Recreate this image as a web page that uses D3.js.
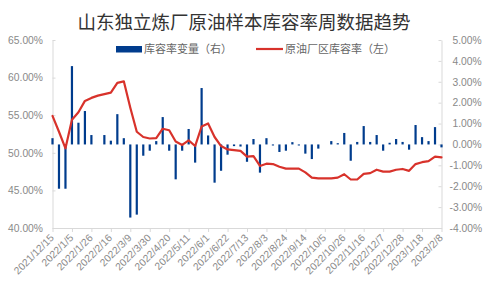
<!DOCTYPE html>
<html>
<head>
<meta charset="utf-8">
<script src="https://cdn.jsdelivr.net/npm/d3@7"></script>
<style>
  body { margin: 0; background: #fff; }
</style>
</head>
<body>
<div id="chart"></div>
<script>
var dates = ["2021/12/15","2021/12/22","2021/12/29","2022/1/5","2022/1/12","2022/1/19","2022/1/26","2022/2/2",
  "2022/2/9","2022/2/16","2022/2/23","2022/3/2","2022/3/9","2022/3/16","2022/3/23","2022/3/30","2022/4/6",
  "2022/4/13","2022/4/20","2022/4/27","2022/5/4","2022/5/11","2022/5/18","2022/5/25","2022/6/1","2022/6/8",
  "2022/6/15","2022/6/22","2022/6/29","2022/7/6","2022/7/13","2022/7/20","2022/7/27","2022/8/3","2022/8/10",
  "2022/8/17","2022/8/24","2022/8/31","2022/9/7","2022/9/14","2022/9/21","2022/9/28","2022/10/5","2022/10/12",
  "2022/10/19","2022/10/26","2022/11/2","2022/11/9","2022/11/16","2022/11/23","2022/11/30","2022/12/7",
  "2022/12/14","2022/12/21","2022/12/28","2023/1/4","2023/1/11","2023/1/18","2023/1/25","2023/2/1","2023/2/8"];

// 库容率变量（右轴, %）
var changeVals = [0.3,-2.12,-2.12,3.75,1.04,1.6,0.45,0,0.45,0.18,1.45,0.3,-3.5,-3.36,-0.54,-0.3,0.16,1.31,-0.3,
  -1.67,-0.3,0.74,-0.87,2.7,0.43,-1.83,-1.26,-0.49,-0.08,-0.1,-0.83,0.26,-1.35,0.3,-0.05,-0.36,-0.3,0.11,-0.05,
  -0.44,-0.7,-0.2,0,0.16,0.06,0.55,-0.78,0.12,0.88,0.12,0.45,-0.3,0.08,0.26,0.12,-0.25,0.93,0.35,0.16,0.83,-0.14];

// 原油厂区库容率（左轴, %）
var rateVals = [54.9,52.8,50.6,54.4,55.4,56.9,57.3,57.6,57.8,58.0,59.3,59.5,56.0,52.8,52.1,51.9,51.95,53.2,53.0,
  51.5,51.05,51.65,50.9,53.5,53.9,52.1,50.9,50.45,50.35,50.25,49.5,49.55,48.25,48.55,48.5,48.15,47.9,47.9,47.9,
  47.4,46.7,46.6,46.6,46.6,46.7,47.15,46.45,46.45,47.2,47.3,47.75,47.5,47.5,47.75,47.85,47.6,48.5,48.75,48.9,
  49.5,49.4];

var leftTicks = [40, 45, 50, 55, 60, 65];
var rightTicks = [-4, -3, -2, -1, 0, 1, 2, 3, 4, 5];
var labelDates = dates.filter(function (d, i) { return i % 3 == 0 });

var title = "山东独立炼厂原油样本库容率周数据趋势";
var legendNames = ["库容率变量（右）", "原油厂区库容率（左）"];

var W = 487, H = 289;
var margin = {top: 40, right: 45.5, bottom: 61, left: 52.5};
var width = W - margin.left - margin.right,
    height = H - margin.top - margin.bottom;

var blue = "#003c8d", red = "#d8322b", axisGray = "#d9d9d9", textGray = "#898989";
var numFont = "'Liberation Sans', Arial, sans-serif";
var cjkFont = "'Noto Sans CJK SC', sans-serif";

var svg = d3.select("#chart")
  .append("svg")
    .attr("width", W)
    .attr("height", H);

svg.append("text")
  .attr("x", 244)
  .attr("y", 29)
  .attr("text-anchor", "middle")
  .style("font-family", cjkFont)
  .style("font-size", "18.5px")
  .style("fill", "#333")
  .text(title);

var g = svg.append("g")
  .attr("transform", "translate(" + margin.left + "," + margin.top + ")");

var x = d3.scalePoint()
  .domain(dates)
  .range([0, width]);

var yL = d3.scaleLinear().domain([40, 65]).range([height, 0]);
var yR = d3.scaleLinear().domain([-4, 5]).range([height, 0]);

// left axis
var leftAxis = g.append("g")
  .call(d3.axisLeft(yL).tickValues(leftTicks).tickSizeInner(-3).tickSizeOuter(0).tickPadding(9.5)
    .tickFormat(function (d) { return d.toFixed(2) + "%" }));
leftAxis.select(".domain").attr("stroke", axisGray);
leftAxis.selectAll(".tick line").attr("stroke", axisGray);
leftAxis.selectAll("text")
  .style("font-family", numFont).style("font-size", "10.3px").style("fill", textGray);

// right axis
var rightAxis = g.append("g")
  .attr("transform", "translate(" + width + ",0)")
  .call(d3.axisRight(yR).tickValues(rightTicks).tickSizeInner(-3).tickSizeOuter(0)
    .tickFormat(function (d) { return d.toFixed(2) + "%" }));
rightAxis.select(".domain").attr("stroke", axisGray);
rightAxis.selectAll(".tick line").attr("stroke", axisGray);
rightAxis.selectAll("text")
  .attr("x", function (d) { return d < 0 ? 8 : 11 })
  .style("font-family", numFont).style("font-size", "10.3px").style("fill", textGray);

// bottom axis
var bottomAxis = g.append("g")
  .attr("transform", "translate(0," + height + ")")
  .call(d3.axisBottom(x).tickValues(labelDates).tickSizeInner(4).tickSizeOuter(0));
bottomAxis.select(".domain").attr("stroke", axisGray);
bottomAxis.selectAll(".tick line").attr("stroke", axisGray);
bottomAxis.selectAll("text")
  .attr("x", 0)
  .attr("y", 0)
  .attr("dy", "0.35em")
  .attr("transform", "translate(-1,8)rotate(-45)")
  .style("text-anchor", "end")
  .style("font-family", numFont).style("font-size", "10.3px").style("fill", textGray);

// bars
var barW = 2.2;
g.selectAll(".bar")
  .data(changeVals)
  .enter()
  .append("rect")
    .attr("class", "bar")
    .attr("x", function (d, i) { return x(dates[i]) - barW / 2 })
    .attr("y", function (d) { return yR(Math.max(d, 0)) })
    .attr("width", barW)
    .attr("height", function (d) { return Math.abs(yR(d) - yR(0)) })
    .attr("fill", blue);

// line
var line = d3.line()
  .x(function (d, i) { return x(dates[i]) })
  .y(function (d) { return yL(d) });

g.append("path")
  .datum(rateVals)
  .attr("d", line)
  .attr("fill", "none")
  .attr("stroke", red)
  .attr("stroke-width", 2.2)
  .attr("stroke-linejoin", "round")
  .attr("stroke-linecap", "round");

// legend
var leg = svg.append("g");
leg.append("rect")
  .attr("x", 116).attr("y", 46)
  .attr("width", 26).attr("height", 6.5)
  .attr("fill", blue);
leg.append("text")
  .attr("x", 144).attr("y", 49).attr("dy", "0.35em")
  .style("font-family", cjkFont).style("font-size", "11px").style("fill", "#666")
  .text(legendNames[0]);
leg.append("line")
  .attr("x1", 256).attr("x2", 283)
  .attr("y1", 49).attr("y2", 49)
  .attr("stroke", red).attr("stroke-width", 2.2);
leg.append("text")
  .attr("x", 285).attr("y", 49).attr("dy", "0.35em")
  .style("font-family", cjkFont).style("font-size", "11px").style("fill", "#666")
  .text(legendNames[1]);
</script>
</body>
</html>
